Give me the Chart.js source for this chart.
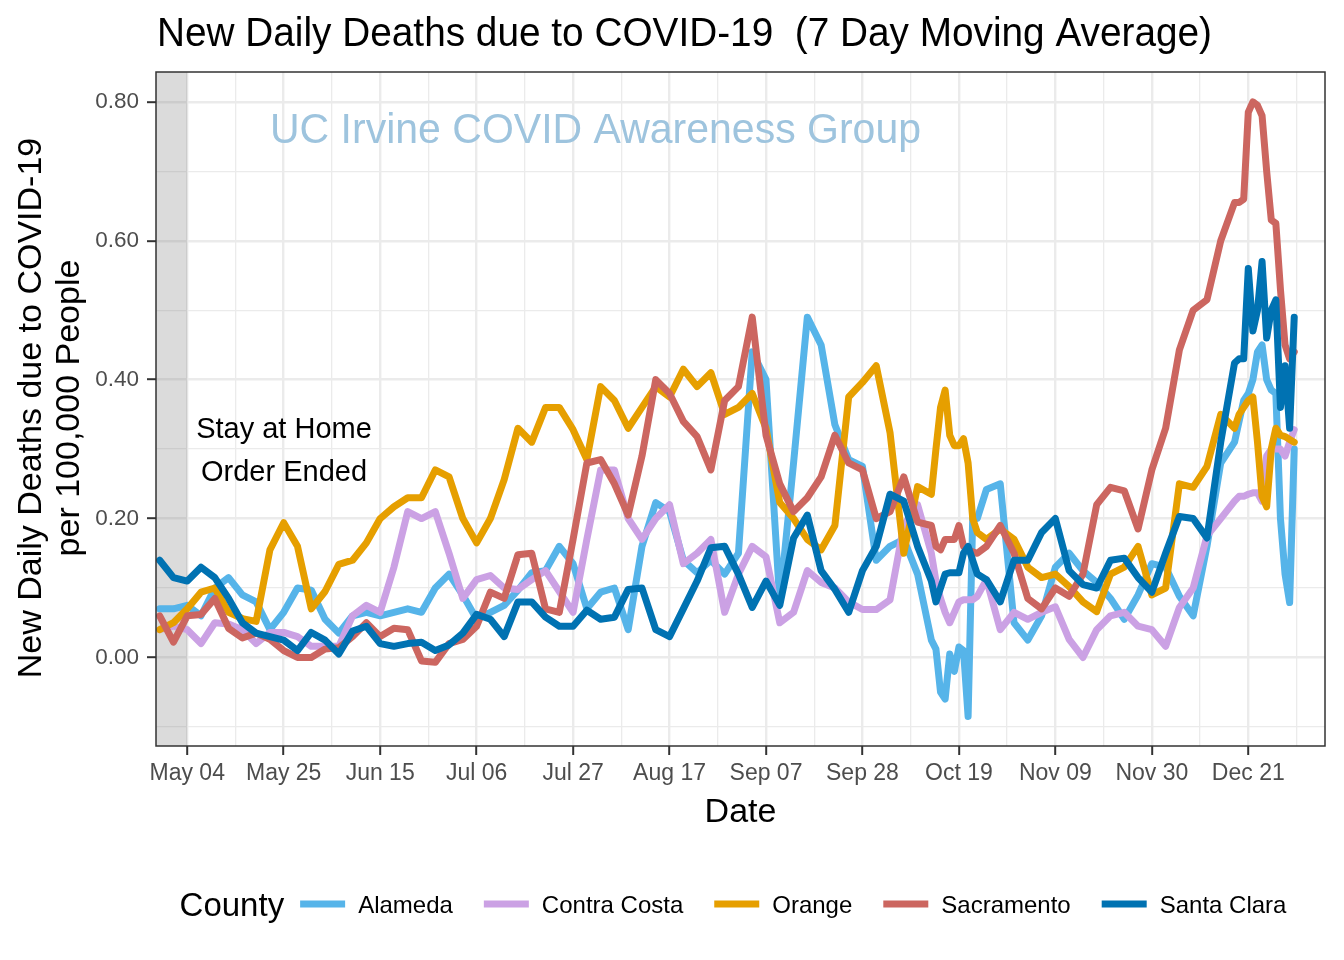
<!DOCTYPE html>
<html lang="en">
<head>
  <meta charset="UTF-8" />
  <title>New Daily Deaths due to COVID-19 (7 Day Moving Average)</title>
  <style>
    body { margin: 0; padding: 0; background: #ffffff; }
    #wrap { width: 1344px; height: 960px; position: relative; }
  </style>
</head>
<body>
  <div id="wrap">
    <canvas id="deathsChart" width="1344" height="960" role="img"
      aria-label="Line chart of new daily COVID-19 deaths per 100,000 people, 7 day moving average, for five California counties"></canvas>
  </div>

  <script src="https://cdn.jsdelivr.net/npm/chart.js"></script>
  <script>
    // Days after 2020-05-04 (May 04 = 0)
    const dayOffsets = [-6, -3, 0, 3, 6, 9, 12, 15, 18, 21, 24, 27, 30, 33, 36, 39, 42, 45, 48, 51,
      54, 57, 60, 63, 66, 69, 72, 75, 78, 81, 84, 87, 90, 93, 96, 99, 102, 105, 108, 111,
      114, 117, 120, 123, 126, 129, 132, 135, 138, 141, 144, 147, 150, 153, 156, 159,
      162, 163, 164, 165, 166, 167, 168, 169, 170, 171, 172,
      174, 177, 180, 183, 186, 189, 192, 195, 198, 201, 204, 207, 210, 213, 216, 219, 222, 225,
      228, 229, 230, 231, 232, 233, 234, 235, 236, 237, 238, 239, 240, 241];

    // 7 day average of new deaths per 100,000 people
    const alameda = [0.07, 0.07, 0.075, 0.06, 0.10, 0.115, 0.09, 0.08, 0.04, 0.065, 0.10, 0.097, 0.055, 0.035, 0.06, 0.065, 0.06, 0.065, 0.07, 0.065,
      0.10, 0.12, 0.09, 0.055, 0.065, 0.075, 0.097, 0.122, 0.125, 0.16, 0.135, 0.07, 0.094, 0.10, 0.04, 0.16, 0.223, 0.21, 0.14, 0.122,
      0.14, 0.12, 0.15, 0.44, 0.40, 0.08, 0.28, 0.49, 0.45, 0.335, 0.285, 0.275, 0.14, 0.16, 0.17, 0.12,
      0.025, 0.012, -0.05, -0.06, 0.005, -0.02, 0.015, 0.01, -0.085, 0.20, 0.20,
      0.242, 0.25, 0.05, 0.025, 0.06, 0.13, 0.15, 0.125, 0.108, 0.085, 0.055, 0.09, 0.135, 0.13, 0.088, 0.06, 0.16, 0.28,
      0.31, 0.34, 0.37, 0.38, 0.40, 0.44, 0.45, 0.40, 0.385, 0.38, 0.20, 0.12, 0.079, 0.30];
    const contraCosta = [0.04, 0.045, 0.04, 0.02, 0.05, 0.048, 0.04, 0.02, 0.036, 0.036, 0.03, 0.016, 0.016, 0.016, 0.06, 0.075, 0.065, 0.13, 0.21, 0.20,
      0.21, 0.15, 0.085, 0.112, 0.118, 0.10, 0.098, 0.112, 0.125, 0.095, 0.065, 0.17, 0.27, 0.27, 0.20, 0.17, 0.20, 0.22, 0.135, 0.15,
      0.17, 0.065, 0.12, 0.16, 0.145, 0.05, 0.065, 0.125, 0.108, 0.10, 0.08, 0.069, 0.069, 0.083, 0.19, 0.22,
      0.15, 0.11, 0.085, 0.065, 0.05, 0.065, 0.08, 0.083, 0.083, 0.083, 0.088,
      0.112, 0.04, 0.065, 0.055, 0.065, 0.073, 0.026, 0.0, 0.04, 0.06, 0.065, 0.045, 0.04, 0.016, 0.072, 0.10, 0.175, 0.20,
      0.225, 0.232, 0.232, 0.235, 0.237, 0.237, 0.225, 0.29, 0.30, 0.30, 0.30, 0.29, 0.31, 0.328];
    const orange = [0.04, 0.05, 0.07, 0.094, 0.10, 0.065, 0.056, 0.052, 0.155, 0.194, 0.16, 0.07, 0.095, 0.134, 0.14, 0.165, 0.20, 0.217, 0.23, 0.23,
      0.27, 0.26, 0.20, 0.165, 0.20, 0.256, 0.33, 0.31, 0.36, 0.36, 0.328, 0.285, 0.39, 0.37, 0.33, 0.36, 0.39, 0.375, 0.415, 0.39,
      0.41, 0.35, 0.36, 0.38, 0.33, 0.223, 0.20, 0.17, 0.155, 0.19, 0.375, 0.396, 0.42, 0.324, 0.15, 0.246,
      0.235, 0.30, 0.36, 0.385, 0.32, 0.305, 0.305, 0.315, 0.28, 0.20, 0.18,
      0.17, 0.185, 0.17, 0.13, 0.115, 0.12, 0.102, 0.08, 0.066, 0.12, 0.13, 0.16, 0.09, 0.10, 0.25, 0.245, 0.275, 0.35,
      0.33, 0.35, 0.36, 0.37, 0.375, 0.31, 0.232, 0.217, 0.30, 0.33, 0.32, 0.318, 0.314, 0.31];
    const sacramento = [0.06, 0.022, 0.06, 0.062, 0.085, 0.042, 0.028, 0.035, 0.026, 0.01, 0.0, 0.0, 0.012, 0.014, 0.03, 0.05, 0.03, 0.042, 0.04, -0.005,
      -0.007, 0.02, 0.026, 0.045, 0.094, 0.085, 0.148, 0.15, 0.07, 0.065, 0.17, 0.28, 0.285, 0.25, 0.205, 0.29, 0.40, 0.38, 0.34, 0.318,
      0.27, 0.37, 0.39, 0.49, 0.32, 0.25, 0.21, 0.23, 0.26, 0.32, 0.28, 0.27, 0.20, 0.21, 0.26, 0.195,
      0.19, 0.16, 0.155, 0.17, 0.17, 0.17, 0.19, 0.16, 0.155, 0.152, 0.15,
      0.16, 0.19, 0.15, 0.085, 0.07, 0.10, 0.088, 0.12, 0.22, 0.245, 0.24, 0.185, 0.27, 0.33, 0.443, 0.50, 0.515, 0.60,
      0.655, 0.655, 0.66, 0.785, 0.80, 0.795, 0.78, 0.70, 0.63, 0.625, 0.53, 0.45, 0.43, 0.44];
    const santaClara = [0.14, 0.115, 0.11, 0.13, 0.115, 0.085, 0.05, 0.035, 0.03, 0.025, 0.01, 0.036, 0.025, 0.005, 0.038, 0.045, 0.02, 0.016, 0.02, 0.022,
      0.01, 0.018, 0.035, 0.062, 0.055, 0.03, 0.08, 0.08, 0.058, 0.045, 0.045, 0.068, 0.055, 0.058, 0.098, 0.10, 0.04, 0.03, 0.07, 0.11,
      0.158, 0.16, 0.12, 0.072, 0.11, 0.075, 0.172, 0.205, 0.125, 0.098, 0.065, 0.125, 0.16, 0.235, 0.225, 0.16,
      0.11, 0.08, 0.10, 0.12, 0.122, 0.122, 0.122, 0.15, 0.16, 0.14, 0.12,
      0.112, 0.08, 0.14, 0.14, 0.18, 0.20, 0.125, 0.105, 0.10, 0.14, 0.143, 0.115, 0.094, 0.15, 0.203, 0.20, 0.172, 0.31,
      0.424, 0.43, 0.43, 0.56, 0.47, 0.50, 0.57, 0.46, 0.50, 0.515, 0.36, 0.42, 0.33, 0.49];

    const countyNames = ['Alameda', 'Contra Costa', 'Orange', 'Sacramento', 'Santa Clara'];
    const countyValues = [alameda, contraCosta, orange, sacramento, santaClara];
    const countyColors = ['#56B4E9', '#CBA1E4', '#E69F00', '#CC6660', '#0072B2'];

    const xTickDays = [0, 21, 42, 63, 84, 105, 126, 147, 168, 189, 210, 231];
    const xTickLabels = ['May 04', 'May 25', 'Jun 15', 'Jul 06', 'Jul 27', 'Aug 17', 'Sep 07', 'Sep 28', 'Oct 19', 'Nov 09', 'Nov 30', 'Dec 21'];
    const yTickValues = [0, 0.2, 0.4, 0.6, 0.8];
    const yTickLabels = ['0.00', '0.20', '0.40', '0.60', '0.80'];

    const FONT = '"Liberation Sans", Arial, Helvetica, sans-serif';

    // major + minor grid positions (minor halfway between majors)
    const xGrid = [];
    xTickDays.forEach(d => { xGrid.push(d); xGrid.push(d + 10.5); });
    const yGrid = [];
    yTickValues.forEach(v => { yGrid.push(v - 0.1); yGrid.push(v); });

    const isMajorX = v => xTickDays.indexOf(v) !== -1;
    const yMajorIndex = v => yTickValues.findIndex(t => Math.abs(t - v) < 1e-6);

    function fitText(ctx, text, x, y, size, width) {
      ctx.font = size + 'px ' + FONT;
      const w = ctx.measureText(text).width;
      ctx.save();
      ctx.translate(x, y);
      if (width) ctx.scale(width / w, 1);
      ctx.fillText(text, 0, 0);
      ctx.restore();
    }

    const decorations = {
      id: 'decorations',
      beforeDatasetsDraw(chart) {
        const { ctx, chartArea: a, scales } = chart;
        ctx.save();
        // stay at home period shading
        ctx.fillStyle = 'rgba(127,127,127,0.28)';
        const xEnd = scales.x.getPixelForValue(0);
        ctx.fillRect(a.left, a.top, xEnd - a.left, a.bottom - a.top);

        ctx.textBaseline = 'alphabetic';
        ctx.textAlign = 'left';
        ctx.fillStyle = '#9EC4DE';
        fitText(ctx, 'UC Irvine COVID Awareness Group', 270, 143, 43, 651);

        ctx.fillStyle = '#000000';
        ctx.textAlign = 'center';
        ctx.font = '29px ' + FONT;
        ctx.fillText('Stay at Home', 284, 438);
        ctx.fillText('Order Ended', 284, 481);
        ctx.restore();
      },
      afterDraw(chart) {
        const { ctx, chartArea: a } = chart;
        ctx.save();
        // panel border
        ctx.strokeStyle = '#333333';
        ctx.lineWidth = 1.5;
        ctx.strokeRect(a.left, a.top, a.right - a.left, a.bottom - a.top);

        ctx.fillStyle = '#000000';
        ctx.textBaseline = 'alphabetic';
        ctx.textAlign = 'left';
        fitText(ctx, 'New Daily Deaths due to COVID-19  (7 Day Moving Average)', 157, 46, 40, 1055);

        // axis titles
        ctx.textAlign = 'center';
        ctx.font = '34px ' + FONT;
        ctx.fillText('Date', (a.left + a.right) / 2, 822);

        ctx.save();
        ctx.translate(41, 408);
        ctx.rotate(-Math.PI / 2);
        ctx.fillText('New Daily Deaths due to COVID-19', 0, 0);
        ctx.fillText('per 100,000 People', 0, 38);
        ctx.restore();

        // legend
        const keyW = 45, keyGap = 13, itemGap = 31, titleGap = 16;
        ctx.font = '33px ' + FONT;
        const titleW = ctx.measureText('County').width;
        ctx.font = '24px ' + FONT;
        const labelW = countyNames.map(n => ctx.measureText(n).width);
        let total = titleW + titleGap;
        labelW.forEach((w, i) => { total += keyW + keyGap + w + (i < labelW.length - 1 ? itemGap : 0); });
        let x = 733 - total / 2;
        const cy = 904;
        ctx.textAlign = 'left';
        ctx.font = '33px ' + FONT;
        ctx.fillText('County', x, cy + 12);
        x += titleW + titleGap;
        ctx.font = '24px ' + FONT;
        countyNames.forEach((name, i) => {
          ctx.strokeStyle = countyColors[i];
          ctx.lineWidth = 7;
          ctx.lineCap = 'butt';
          ctx.beginPath();
          ctx.moveTo(x, cy);
          ctx.lineTo(x + keyW, cy);
          ctx.stroke();
          x += keyW + keyGap;
          ctx.fillText(name, x, cy + 9);
          x += labelW[i] + itemGap;
        });
        ctx.restore();
      }
    };

    const datasets = countyNames.map((name, i) => ({
      label: name,
      data: dayOffsets.map((d, j) => ({ x: d, y: countyValues[i][j] })),
      borderColor: countyColors[i],
      backgroundColor: countyColors[i],
      borderWidth: 7,
      pointRadius: 0,
      tension: 0,
      borderJoinStyle: 'round',
      borderCapStyle: 'round',
      fill: false,
      order: countyNames.length - i
    }));

    const ctx = document.getElementById('deathsChart').getContext('2d');
    const deathsChart = new Chart(ctx, {
      type: 'line',
      data: { datasets },
      options: {
        responsive: false,
        animation: false,
        layout: { padding: { top: 72, right: 19, bottom: 0, left: 0 } },
        plugins: {
          legend: { display: false },
          title: { display: false },
          tooltip: { enabled: false }
        },
        scales: {
          x: {
            type: 'linear',
            min: -6.8,
            max: 247.7,
            afterBuildTicks: s => { s.ticks = xGrid.map(v => ({ value: v })); },
            afterFit: s => { s.height = 214; },
            border: { display: false },
            grid: {
              color: '#EBEBEB',
              lineWidth: c => (c.tick && isMajorX(c.tick.value) ? 2.4 : 1.3),
              tickLength: 9,
              tickWidth: 2,
              tickColor: c => (c.tick && isMajorX(c.tick.value) ? '#333333' : 'rgba(0,0,0,0)')
            },
            ticks: {
              autoSkip: false,
              maxRotation: 0,
              padding: 5,
              color: '#4D4D4D',
              font: { size: 23, family: FONT },
              callback: v => {
                const k = xTickDays.indexOf(v);
                return k === -1 ? '' : xTickLabels[k];
              }
            }
          },
          y: {
            min: -0.1275,
            max: 0.843,
            afterBuildTicks: s => { s.ticks = yGrid.map(v => ({ value: v })); },
            afterFit: s => { s.width = 156; },
            border: { display: false },
            grid: {
              color: '#EBEBEB',
              lineWidth: c => (c.tick && yMajorIndex(c.tick.value) !== -1 ? 2.4 : 1.3),
              tickLength: 9,
              tickWidth: 2,
              tickColor: c => (c.tick && yMajorIndex(c.tick.value) !== -1 ? '#333333' : 'rgba(0,0,0,0)')
            },
            ticks: {
              padding: 8,
              color: '#4D4D4D',
              font: { size: 22.5, family: FONT },
              callback: v => {
                const k = yMajorIndex(v);
                return k === -1 ? '' : yTickLabels[k];
              }
            }
          }
        }
      },
      plugins: [decorations]
    });
  </script>
</body>
</html>
